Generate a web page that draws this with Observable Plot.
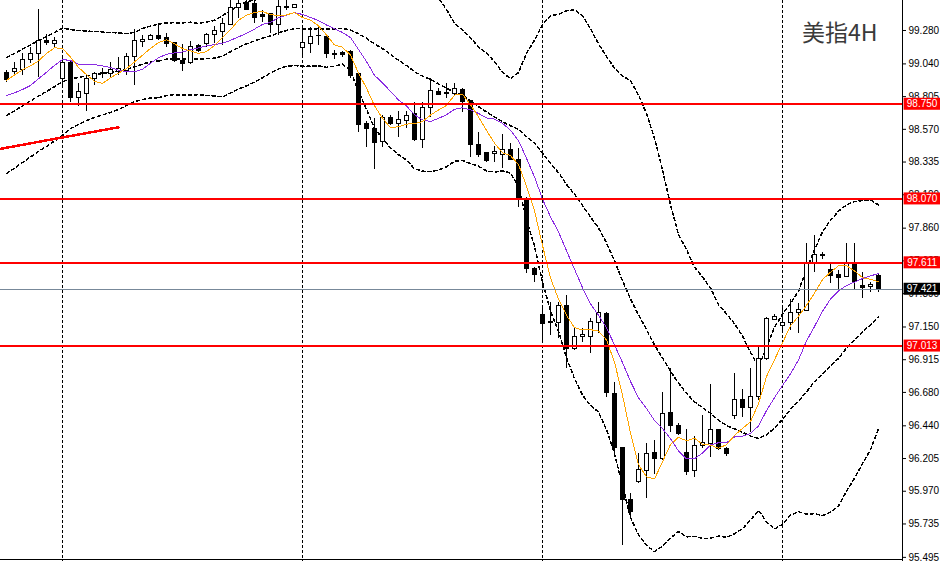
<!DOCTYPE html>
<html><head><meta charset="utf-8">
<script src="https://cdn.jsdelivr.net/npm/d3@7"></script>
<script src="https://cdn.jsdelivr.net/npm/@observablehq/plot@0.6"></script>
<style>body{margin:0;background:#fff}</style>
</head><body><div id="chart"></div>
<script>
// OHLC of 110 four-hour candles
const opens = [98.978,98.980,98.993,99.070,99.113,99.208,99.184,98.933,99.045,98.797,
98.825,98.935,98.964,98.964,98.980,98.988,99.088,99.196,99.213,99.244,
99.228,99.189,99.064,99.045,99.172,99.184,99.251,99.268,99.323,99.443,
99.476,99.467,99.388,99.395,99.323,99.452,99.443,99.156,99.184,99.237,
99.232,99.113,99.120,99.124,98.964,98.605,98.574,98.478,98.653,98.610,
98.633,98.677,98.490,98.725,98.837,98.825,98.825,98.854,98.772,98.454,
98.399,98.394,98.389,98.418,98.351,98.071,97.568,97.233,97.185,97.177,
97.304,96.993,97.077,97.077,97.177,97.245,96.670,96.282,95.904,96.035,
96.114,96.243,96.203,96.531,96.442,96.246,96.119,96.292,96.311,96.407,
96.275,96.507,96.627,96.570,96.646,96.922,97.202,97.159,97.180,97.252,
97.264,97.599,97.661,97.556,97.520,97.508,97.608,97.441,97.436,97.513];
const highs = [98.993,99.052,99.113,99.160,99.429,99.251,99.232,99.077,99.064,98.897,
98.945,98.980,99.005,99.052,99.088,99.113,99.285,99.244,99.251,99.316,
99.256,99.196,99.177,99.203,99.179,99.261,99.309,99.364,99.500,99.500,
99.500,99.500,99.424,99.400,99.500,99.500,99.467,99.304,99.304,99.304,
99.244,99.136,99.129,99.136,98.978,98.628,98.646,98.669,98.669,98.700,
98.700,98.765,98.765,98.933,98.861,98.901,98.901,98.861,98.777,98.549,
98.406,98.447,98.531,98.466,98.430,98.078,97.575,97.292,97.328,97.328,
97.376,97.149,97.137,97.209,97.328,97.256,96.753,96.286,95.956,96.243,
96.311,96.335,96.682,96.850,96.459,96.411,96.363,96.514,96.737,96.411,
96.286,96.818,96.699,96.850,97.005,97.220,97.240,97.288,97.345,97.317,
97.748,97.807,97.687,97.608,97.556,97.748,97.748,97.544,97.472,97.532];
const lows = [98.906,98.957,98.957,99.041,98.940,99.172,99.160,98.885,98.765,98.734,
98.700,98.885,98.933,98.933,98.957,98.957,98.885,99.160,99.208,99.208,
99.160,99.052,98.988,99.036,99.122,99.160,99.184,99.172,99.316,99.364,
99.424,99.332,99.340,99.261,99.244,99.424,99.436,99.077,99.113,99.172,
99.077,99.070,99.088,98.935,98.549,98.437,98.279,98.442,98.598,98.509,
98.574,98.485,98.430,98.657,98.813,98.789,98.813,98.693,98.370,98.370,
98.334,98.334,98.287,98.346,98.011,97.537,97.472,97.053,97.089,97.065,
96.850,96.981,97.041,96.962,97.101,96.641,96.227,95.580,95.765,96.028,
95.916,96.090,96.191,96.394,96.371,96.083,96.071,96.275,96.210,96.263,
96.220,96.483,96.498,96.394,96.622,96.909,97.197,97.101,97.125,97.101,
97.264,97.544,97.633,97.465,97.400,97.503,97.412,97.353,97.400,97.400];
const closes = [98.921,99.000,99.070,99.113,99.203,99.189,99.203,99.050,98.797,98.835,
98.928,98.964,98.973,98.998,99.005,99.093,99.201,99.213,99.244,99.220,
99.184,99.059,99.041,99.160,99.131,99.251,99.275,99.328,99.443,99.472,
99.429,99.371,99.376,99.316,99.452,99.443,99.460,99.189,99.232,99.244,
99.113,99.103,99.106,98.950,98.598,98.574,98.470,98.653,98.610,98.638,
98.667,98.490,98.725,98.842,98.820,98.830,98.861,98.765,98.454,98.389,
98.341,98.406,98.418,98.351,98.071,97.568,97.520,97.173,97.177,97.304,
96.993,97.077,97.096,97.185,97.252,96.674,96.282,95.909,95.820,96.124,
96.234,96.203,96.526,96.442,96.383,96.107,96.292,96.315,96.407,96.275,
96.234,96.622,96.570,96.646,96.922,97.209,97.225,97.180,97.252,97.269,
97.599,97.664,97.669,97.515,97.503,97.604,97.472,97.429,97.453,97.421];

// Indicator values at the left edge (their history is off-screen)
const earlyBandIdx = [0,1,2,3,4,5,6,7,8,9,10,11,12,13,14,15,16,17,18,19];
const earlyUpper = [99.086,99.115,99.146,99.177,99.206,99.237,99.266,99.297,99.287,99.280,
99.276,99.273,99.269,99.266,99.262,99.258,99.266,99.294,99.312,99.325];
const earlyMiddle = [98.670,98.703,98.739,98.774,98.809,98.842,98.876,98.912,98.932,98.943,
98.955,98.964,98.971,98.979,98.987,99.000,99.018,99.039,99.054,99.061];
const earlyLower = [98.253,98.291,98.332,98.371,98.411,98.447,98.486,98.526,98.576,98.605,
98.633,98.655,98.673,98.691,98.712,98.741,98.770,98.784,98.795,98.797];
const earlyMaIdx = [0,1,2,3,4,5,6,7,8,9];
const earlyMa10 = [98.813,98.832,98.856,98.885,98.933,98.980,99.029,99.072,99.064,99.038];

// Horizontal levels, current price, trend line, separators, axis ticks
const levels = [98.750, 98.070, 97.611, 97.013];
const currentPrice = 97.421;
const trendIdx = [-0.75, 14];
const trendPrice = [98.430, 98.585];
const separators = [7, 37, 67, 97];
const tickValues = [99.280,99.040,98.805,98.570,98.335,98.100,97.860,97.625,97.390,97.150,96.915,96.680,96.440,96.205,95.970,95.735,95.495];
const title = "美指4H";

const candles = opens.map((o, i) => ({i, open: o, high: highs[i], low: lows[i], close: closes[i]}));
const earlyBands = earlyBandIdx.map((i, j) => ({i, upper: earlyUpper[j], middle: earlyMiddle[j], lower: earlyLower[j]}));
const earlyMa = earlyMaIdx.map((i, j) => ({i, v: earlyMa10[j]}));
const trend = trendIdx.map((i, j) => ({i, p: trendPrice[j]}));

const W = 945, H = 561;
const yDomain = [95.4653, 99.4955];
const pxPerUnit = H / (yDomain[1] - yDomain[0]);
const boxHalf = 6 / pxPerUnit;

function boll(sign) {
  return values => {
    if (values.length < 20) return NaN;
    const m = d3.mean(values);
    const sd = Math.sqrt(d3.mean(values, v => (v - m) ** 2));
    return m + sign * 2 * sd;
  };
}
const sma = k => values => values.length < k ? NaN : d3.mean(values);

const dash = "3,3";
const crisp = "crispEdges";
const chart = Plot.plot({
  width: W, height: H,
  marginLeft: 0, marginRight: 43, marginTop: 0, marginBottom: 0,
  style: {background: "#fff", fontFamily: "'Liberation Sans', Arial, sans-serif", fontSize: "10px", color: "#000"},
  x: {domain: [-0.75, 112], axis: null},
  y: {domain: yDomain, axis: "right", ticks: tickValues, tickFormat: d3.format(".3f"), tickSize: 3, tickPadding: 3, label: null, line: true},
  marks: [
    Plot.ruleX(separators, {x: d => d, stroke: "#000", strokeDasharray: "3,2", shapeRendering: crisp}),
    // Bollinger bands (20, 2)
    Plot.line(candles, Plot.windowY({k: 20, anchor: "end", reduce: boll(1)}, {x: "i", y: "close", stroke: "#000", strokeDasharray: dash, shapeRendering: crisp})),
    Plot.line(candles, Plot.windowY({k: 20, anchor: "end", reduce: sma(20)}, {x: "i", y: "close", stroke: "#000", strokeDasharray: dash, shapeRendering: crisp})),
    Plot.line(candles, Plot.windowY({k: 20, anchor: "end", reduce: boll(-1)}, {x: "i", y: "close", stroke: "#000", strokeDasharray: dash, shapeRendering: crisp})),
    Plot.line(earlyBands, {x: "i", y: "upper", stroke: "#000", strokeDasharray: dash, shapeRendering: crisp}),
    Plot.line(earlyBands, {x: "i", y: "middle", stroke: "#000", strokeDasharray: dash, shapeRendering: crisp}),
    Plot.line(earlyBands, {x: "i", y: "lower", stroke: "#000", strokeDasharray: dash, shapeRendering: crisp}),
    // candles
    Plot.ruleX(candles, {x: "i", y1: "low", y2: "high", stroke: "#000", shapeRendering: crisp}),
    Plot.rect(candles, {x1: d => d.i - 0.25, x2: d => d.i + 0.25, y1: "open", y2: "close",
      fill: d => d.close >= d.open ? "#fff" : "#000", stroke: "#000", shapeRendering: crisp}),
    // moving averages
    Plot.line(candles, Plot.windowY({k: 10, anchor: "end", reduce: sma(10)}, {x: "i", y: "close", stroke: "#8a2be2", strokeWidth: 1, shapeRendering: crisp})),
    Plot.line(earlyMa, {x: "i", y: "v", stroke: "#8a2be2", strokeWidth: 1, shapeRendering: crisp}),
    Plot.line(candles, Plot.windowY({k: 5, anchor: "end", reduce: "mean"}, {x: "i", y: "close", stroke: "#ffa500", strokeWidth: 1, shapeRendering: crisp})),
    // trend line
    Plot.line(trend, {x: "i", y: "p", stroke: "#ff0000", strokeWidth: 2.5, shapeRendering: crisp}),
    // current price and levels
    Plot.ruleY([currentPrice], {y: d => d, stroke: "#778899", strokeWidth: 1, shapeRendering: crisp}),
    Plot.ruleY(levels, {y: d => d, stroke: "#ff0000", strokeWidth: 2, shapeRendering: crisp}),
    Plot.ruleY([yDomain[0]], {y: d => d, stroke: "#000", dy: -2, shapeRendering: crisp}),
    // price labels
    Plot.rect(levels, {x1: 112.2, x2: 116.75, y1: d => d - boxHalf, y2: d => d + boxHalf, fill: "#ff0000"}),
    Plot.text(levels, {x: 114.45, y: d => d, text: d => d.toFixed(3), fill: "#fff", fontSize: 10}),
    Plot.rect([currentPrice], {x1: 112.2, x2: 116.75, y1: d => d - boxHalf, y2: d => d + boxHalf, fill: "#000"}),
    Plot.text([currentPrice], {x: 114.45, y: d => d, text: d => d.toFixed(3), fill: "#fff", fontSize: 10}),
    // title
    Plot.text([title], {frameAnchor: "top-right", text: d => d, dx: -25, dy: 33, lineAnchor: "middle",
      fontSize: 23, fill: "#3a3a3a", fontFamily: "'Noto Sans CJK SC', sans-serif"})
  ]
});
document.getElementById("chart").appendChild(chart);
</script>
</body></html>
